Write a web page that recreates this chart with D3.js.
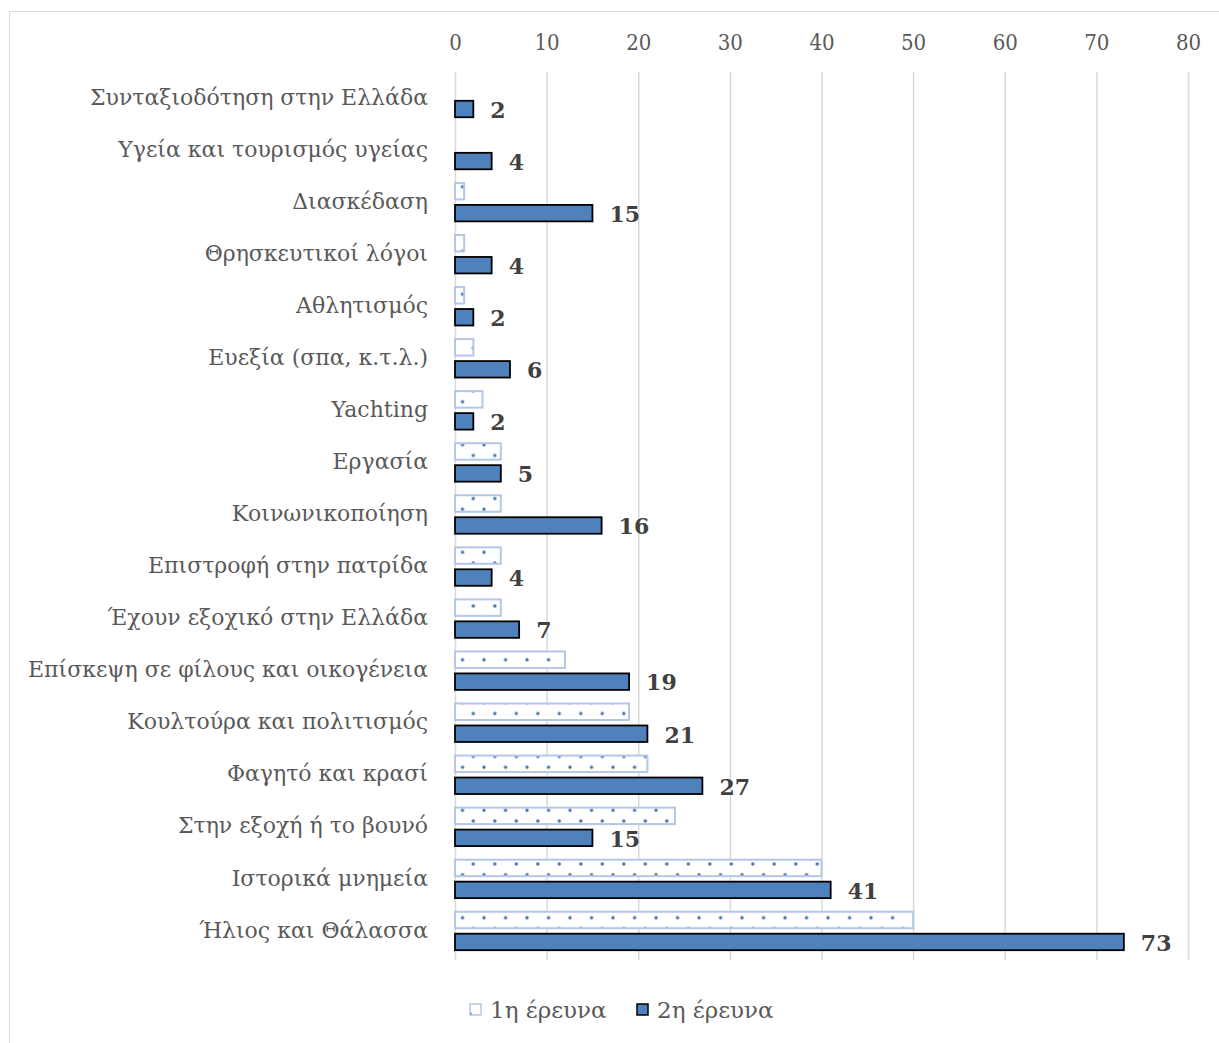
<!DOCTYPE html>
<html>
<head>
<meta charset="utf-8">
<script src="https://cdn.jsdelivr.net/npm/d3@7"></script>
<style>
  html, body { margin: 0; padding: 0; background: #fff; }
  svg { display: block; }
</style>
</head>
<body>
<svg id="chart" width="1219" height="1043"></svg>
<script>
// Reasons for travelling to Greece, two survey waves
const categories = [
  "Συνταξιοδότηση στην Ελλάδα",
  "Υγεία και τουρισμός υγείας",
  "Διασκέδαση",
  "Θρησκευτικοί λόγοι",
  "Αθλητισμός",
  "Ευεξία (σπα, κ.τ.λ.)",
  "Yachting",
  "Εργασία",
  "Κοινωνικοποίηση",
  "Επιστροφή στην πατρίδα",
  "Έχουν εξοχικό στην Ελλάδα",
  "Επίσκεψη σε φίλους και οικογένεια",
  "Κουλτούρα και πολιτισμός",
  "Φαγητό και κρασί",
  "Στην εξοχή ή το βουνό",
  "Ιστορικά μνημεία",
  "Ήλιος και Θάλασσα"
];
const survey1 = [0, 0, 1, 1, 1, 2, 3, 5, 5, 5, 5, 12, 19, 21, 24, 40, 50];
const survey2 = [2, 4, 15, 4, 2, 6, 2, 5, 16, 4, 7, 19, 21, 27, 15, 41, 73];
const xTicks = [0, 10, 20, 30, 40, 50, 60, 70, 80];
const seriesNames = ["1η έρευνα", "2η έρευνα"];

const svg = d3.select("#chart");
const W = 1219, H = 1043;
const plot = { left: 455, right: 1188, top: 72, bottom: 957 };

const serif = "'DejaVu Serif', 'Liberation Serif', serif";
const labelColor = "#595959";
const blue = "#4f81bd";
const dotColor = "#3f6fae";

// outer chart frame
svg.append("rect")
  .attr("x", 9.5).attr("y", 11.5)
  .attr("width", W).attr("height", H)
  .attr("fill", "#fff").attr("stroke", "#d9d9d9").attr("stroke-width", 1);

// dotted fill for the first survey (diamond lattice of small dots)
const defs = svg.append("defs");
const P = 21.5;
const pat = defs.append("pattern")
  .attr("id", "dots")
  .attr("patternUnits", "userSpaceOnUse")
  .attr("x", 0.3).attr("y", 4)
  .attr("width", P).attr("height", P);
pat.append("rect").attr("width", P).attr("height", P).attr("fill", "#fff");
[[0, 0], [P, 0], [0, P], [P, P], [P / 2, P / 2]].forEach(([cx, cy]) => {
  pat.append("circle").attr("cx", cx).attr("cy", cy).attr("r", 1.7).attr("fill", dotColor);
});

const x = d3.scaleLinear().domain([0, 80]).range([plot.left, plot.right]);
const y = d3.scaleBand().domain(categories).range([plot.top, plot.bottom]).padding(0);
const inner = d3.scaleBand().domain(seriesNames).range([0, y.bandwidth()])
  .paddingInner(0.25).paddingOuter(0.31);

// vertical gridlines
svg.append("g")
  .selectAll("line")
  .data(xTicks)
  .join("line")
  .attr("x1", d => x(d) + 0.5).attr("x2", d => x(d) + 0.5)
  .attr("y1", plot.top).attr("y2", plot.bottom + 3)
  .attr("stroke", "#d9d9d9").attr("stroke-width", 1.5);

// tick labels along the top
const axis = d3.axisTop(x).tickValues(xTicks).tickSize(0).tickPadding(0);
const gAxis = svg.append("g").attr("transform", "translate(0,50)").call(axis);
gAxis.select(".domain").remove();
gAxis.selectAll("text")
  .attr("font-family", "'DejaVu Serif Condensed', 'Liberation Serif', serif")
  .attr("font-size", 22)
  .attr("fill", labelColor);

// category labels
svg.append("g")
  .selectAll("text")
  .data(categories)
  .join("text")
  .attr("x", 428)
  .attr("y", d => y(d) + y.bandwidth() / 2)
  .attr("dy", "0.3em")
  .attr("text-anchor", "end")
  .attr("font-family", serif)
  .attr("font-size", 22)
  .attr("fill", labelColor)
  .text(d => d);

const barH = inner.bandwidth();

// first survey bars
svg.append("g")
  .selectAll("rect")
  .data(categories.map((c, i) => ({ c, v: survey1[i] })))
  .join("rect")
  .attr("x", x(0))
  .attr("y", d => y(d.c) + inner(seriesNames[0]))
  .attr("width", d => x(d.v) - x(0))
  .attr("height", barH)
  .attr("fill", "url(#dots)")
  .attr("stroke", "#b4c7e7")
  .attr("stroke-width", 2);

// second survey bars
svg.append("g")
  .selectAll("rect")
  .data(categories.map((c, i) => ({ c, v: survey2[i] })))
  .join("rect")
  .attr("x", x(0))
  .attr("y", d => y(d.c) + inner(seriesNames[1]))
  .attr("width", d => x(d.v) - x(0))
  .attr("height", barH)
  .attr("fill", blue)
  .attr("stroke", "#000")
  .attr("stroke-width", 1.8);

// value labels for the second survey
svg.append("g")
  .selectAll("text")
  .data(categories.map((c, i) => ({ c, v: survey2[i] })))
  .join("text")
  .attr("x", d => x(d.v) + 17)
  .attr("y", d => y(d.c) + inner(seriesNames[1]) + barH / 2)
  .attr("dy", "0.4em")
  .attr("font-family", serif)
  .attr("font-weight", "bold")
  .attr("font-size", 22)
  .attr("fill", "#404040")
  .text(d => d.v);

// legend
const legend = svg.append("g").attr("transform", "translate(0,1010)");
const legendItems = [
  { name: seriesNames[0], x: 470, fill: "url(#dots)", stroke: "#b4c7e7" },
  { name: seriesNames[1], x: 637, fill: blue, stroke: "#000" }
];
const li = legend.selectAll("g").data(legendItems).join("g")
  .attr("transform", d => `translate(${d.x},0)`);
li.append("rect")
  .attr("x", 0).attr("y", -6).attr("width", 11).attr("height", 11)
  .attr("fill", d => d.fill).attr("stroke", d => d.stroke).attr("stroke-width", 1.5);
li.append("text")
  .attr("x", 20).attr("y", 0).attr("dy", "0.35em")
  .attr("font-family", serif)
  .attr("font-size", 23)
  .attr("fill", labelColor)
  .text(d => d.name);
</script>
</body>
</html>
